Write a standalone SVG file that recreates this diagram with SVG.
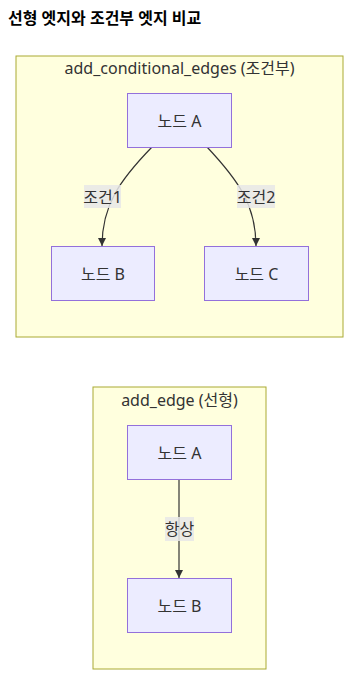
<svg xmlns="http://www.w3.org/2000/svg" width="362" height="682" viewBox="0 0 362 682">
<style>
text{font-family:"Noto Sans","Noto Sans CJK KR",sans-serif;fill:#333;}
.title{font-size:16px;font-weight:bold;fill:#000;}
.cl{fill:#ffffde;stroke:#aaaa33;stroke-width:1;}
.nd{fill:#ECECFF;stroke:#9370DB;stroke-width:1;}
.t{font-size:16px;text-anchor:middle;dominant-baseline:central;}
.e{fill:none;stroke:#333;stroke-width:1.2;}
.lb{fill:#e8e8e8;opacity:0.85;}
</style>
<defs>
<marker id="arr" viewBox="0 0 10 10" refX="10" refY="5" markerWidth="8" markerHeight="8" markerUnits="userSpaceOnUse" orient="auto">
<path d="M0,0 L10,5 L0,10 z" fill="#333"/>
</marker>
</defs>
<rect width="362" height="682" fill="#fff"/>
<text class="title" x="8" y="24">선형 엣지와 조건부 엣지 비교</text>
<g id="cluster-conditional">
<rect class="cl" x="16" y="56" width="327" height="281"/>
<text class="t" x="179.5" y="68">add_conditional_edges (조건부)</text>
</g>
<g id="cluster-linear">
<rect class="cl" x="93" y="387" width="173" height="282"/>
<text class="t" x="179.5" y="400">add_edge (선형)</text>
</g>
<g id="edges">
<path class="e" d="M152,147 C120,180 102,205 102,246" marker-end="url(#arr)"/>
<path class="e" d="M207,147 C238,180 256,205 256,246" marker-end="url(#arr)"/>
<path class="e" d="M179,479 L179,578" marker-end="url(#arr)"/>
<rect class="lb" x="84" y="185" width="37" height="23"/>
<text class="t" x="102.5" y="196.5">조건1</text>
<rect class="lb" x="237" y="185" width="38" height="23"/>
<text class="t" x="256" y="196.5">조건2</text>
<rect class="lb" x="165" y="517" width="29" height="24"/>
<text class="t" x="179.5" y="529">항상</text>
</g>
<g id="node-c-a">
<rect class="nd" x="127.5" y="93.5" width="104" height="54"/>
<text class="t" x="179.5" y="120.5">노드 A</text>
</g>
<g id="node-c-b">
<rect class="nd" x="51.5" y="246.5" width="103" height="54"/>
<text class="t" x="103" y="273.5">노드 B</text>
</g>
<g id="node-c-c">
<rect class="nd" x="204.5" y="246.5" width="104" height="54"/>
<text class="t" x="256.5" y="273.5">노드 C</text>
</g>
<g id="node-l-a">
<rect class="nd" x="127.5" y="425.5" width="104" height="54"/>
<text class="t" x="179.5" y="452.5">노드 A</text>
</g>
<g id="node-l-b">
<rect class="nd" x="127.5" y="578.5" width="104" height="54"/>
<text class="t" x="179.5" y="605.5">노드 B</text>
</g>
</svg>
